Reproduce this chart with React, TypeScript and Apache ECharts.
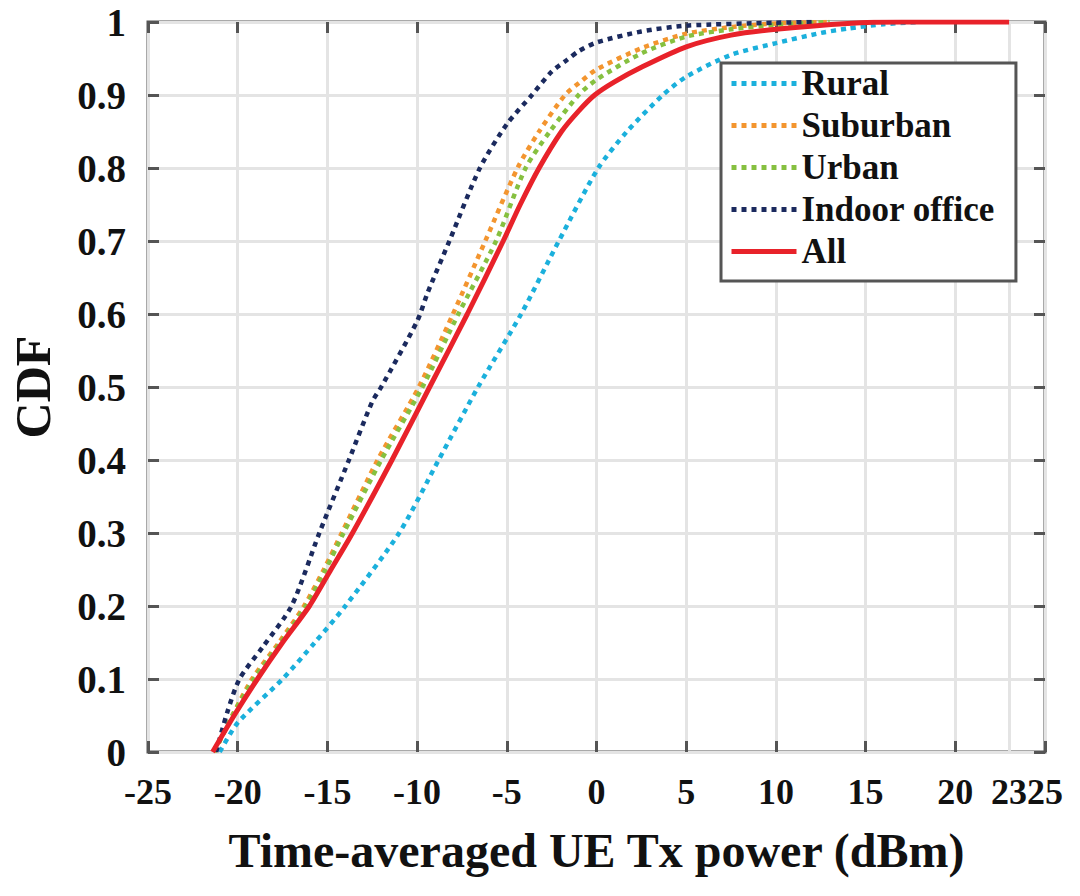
import React, { useEffect, useRef } from "react";
import * as echarts from "echarts";

const xTicks = [-25, -20, -15, -10, -5, 0, 5, 10, 15, 20, 23, 25];
const xMainLabels = [-25, -20, -15, -10, -5, 0, 5, 10, 15, 20, 25];
const xExtraLabels = [23];
const seriesNames = ["Rural", "Suburban", "Urban", "Indoor office", "All"];

const rural: number[][] = [
  [-21.0, 0], [-20.0, 0.04], [-17.5, 0.1], [-15.7, 0.15], [-14.0, 0.2], [-11.0, 0.3], [-8.8, 0.4],
  [-6.6, 0.5], [-4.2, 0.6], [-2.1, 0.7], [0.1, 0.8], [1.7, 0.85], [3.7, 0.9], [5.0, 0.925],
  [7.5, 0.955], [10.0, 0.971], [12.5, 0.985], [14.0, 0.991], [16.0, 0.997], [18.0, 1.0],
];
const suburban: number[][] = [
  [-21.3, 0], [-20.3, 0.05], [-19.2, 0.1], [-17.7, 0.15], [-16.3, 0.2], [-15.2, 0.25], [-14.2, 0.3],
  [-12.2, 0.4], [-9.9, 0.5], [-8.0, 0.6], [-6.2, 0.7], [-4.4, 0.8], [-3.2, 0.85], [-1.75, 0.9],
  [-0.8, 0.92], [0.0, 0.935], [2.5, 0.964], [5.0, 0.984], [7.5, 0.993], [10.0, 0.998], [13.0, 1.0],
];
const urban: number[][] = [
  [-21.3, 0], [-20.3, 0.05], [-19.1, 0.1], [-17.6, 0.15], [-16.2, 0.2], [-15.1, 0.25], [-14.1, 0.3],
  [-12.0, 0.4], [-9.7, 0.5], [-7.7, 0.6], [-5.6, 0.7], [-3.95, 0.8], [-2.6, 0.85], [-1.0, 0.9],
  [0.0, 0.921], [2.5, 0.957], [5.0, 0.98], [7.5, 0.99], [10.0, 0.996], [13.0, 1.0],
];
const indoorOffice: number[][] = [
  [-21.2, 0], [-20.6, 0.053], [-19.9, 0.1], [-18.6, 0.144], [-17.0, 0.2], [-15.45, 0.3],
  [-13.8, 0.4], [-12.5, 0.48], [-12.0, 0.5], [-10.0, 0.59], [-9.4, 0.63], [-8.2, 0.7],
  [-6.5, 0.8], [-5.0, 0.86], [-3.6, 0.9], [-2.5, 0.932], [-1.65, 0.948], [-1.0, 0.96],
  [0.0, 0.972], [2.5, 0.987], [5.0, 0.995], [10.0, 0.999], [12.0, 1.0],
];
const all: number[][] = [
  [-21.4, 0], [-20.2, 0.05], [-18.9, 0.1], [-17.5, 0.15], [-16.0, 0.2], [-14.8, 0.25], [-13.6, 0.3],
  [-11.4, 0.4], [-9.3, 0.5], [-7.2, 0.6], [-5.2, 0.7], [-4.25, 0.75], [-3.2, 0.8], [-1.95, 0.85],
  [-1.0, 0.878], [-0.1, 0.9], [1.0, 0.918], [2.5, 0.938], [5.0, 0.966], [7.5, 0.982], [10.0, 0.99],
  [14.0, 0.998], [17.0, 1.0], [23.0, 1.0],
];

const colors = ["#1bb0dc", "#f3952f", "#86c040", "#1b2a5e", "#e8222a"];
const datasets = [rural, suburban, urban, indoorOffice, all];

const FONT = "Liberation Serif";
const AXIS_COLOR = "#555555";
const GRID_COLOR = "#e4e4e4";

const tickLabelStyle = {
  fontFamily: FONT,
  fontWeight: "bold",
  fontSize: 36,
  color: "#111111",
};

export default function App() {
  const ref = useRef<HTMLDivElement>(null);

  useEffect(() => {
    if (!ref.current) return;
    const chart = echarts.init(ref.current, undefined, { renderer: "svg" });

    const series: any[] = datasets.map((d, i) => {
      const isAll = i === 4;
      return {
        name: seriesNames[i],
        type: "line",
        data: d,
        xAxisIndex: 0,
        yAxisIndex: 0,
        smooth: 0.25,
        symbol: "none",
        showSymbol: false,
        z: 3 + i,
        lineStyle: {
          color: colors[i],
          width: isAll ? 5 : 4.5,
          type: isAll ? "solid" : [5, 5],
          cap: "butt",
        },
        itemStyle: { color: colors[i] },
      };
    });
    // vertical grid line at the 23 dBm tick
    series[0].markLine = {
      silent: true,
      symbol: "none",
      label: { show: false },
      z: 1,
      lineStyle: { color: GRID_COLOR, width: 3, type: "solid" },
      data: [{ xAxis: 23 }],
    };

    const option: any = {
      animation: false,
      backgroundColor: "#ffffff",
      grid: {
        left: 143,
        right: 35,
        top: 22,
        bottom: 144,
        show: true,
        borderColor: AXIS_COLOR,
        borderWidth: 3,
        backgroundColor: "#ffffff",
      },
      legend: {
        data: seriesNames,
        orient: "vertical",
        left: 721,
        top: 63,
        itemWidth: 65,
        itemHeight: 12,
        itemGap: 7,
        padding: [3, 21, 12, 8],
        borderColor: AXIS_COLOR,
        borderWidth: 3,
        backgroundColor: "#ffffff",
        itemStyle: { opacity: 0 },
        lineStyle: { width: 5 },
        textStyle: {
          fontFamily: FONT,
          fontWeight: "bold",
          fontSize: 35,
          lineHeight: 35,
          color: "#111111",
        },
      },
      xAxis: [
        {
          type: "value",
          min: -25,
          max: 25,
          interval: 5,
          position: "bottom",
          name: "Time-averaged UE Tx power (dBm)",
          nameLocation: "middle",
          nameGap: 74,
          nameTextStyle: {
            fontFamily: FONT,
            fontWeight: "bold",
            fontSize: 48,
            color: "#111111",
          },
          axisLine: { show: false, onZero: false },
          axisTick: {
            show: true,
            inside: true,
            length: 11,
            customValues: xTicks,
            lineStyle: { color: AXIS_COLOR, width: 3 },
          },
          axisLabel: {
            customValues: xMainLabels,
            showMinLabel: true,
            showMaxLabel: true,
            margin: 22,
            ...tickLabelStyle,
          },
          splitLine: {
            show: true,
            lineStyle: { color: GRID_COLOR, width: 3 },
          },
        },
        {
          type: "value",
          min: -25,
          max: 25,
          interval: 5,
          position: "top",
          axisLine: { show: false, onZero: false },
          axisTick: {
            show: true,
            inside: true,
            length: 11,
            customValues: xTicks,
            lineStyle: { color: AXIS_COLOR, width: 3 },
          },
          axisLabel: { show: false },
          splitLine: { show: false },
        },
        {
          type: "value",
          min: -25,
          max: 25,
          interval: 5,
          position: "bottom",
          axisLine: { show: false, onZero: false },
          axisTick: { show: false },
          axisLabel: {
            customValues: xExtraLabels,
            showMinLabel: false,
            showMaxLabel: false,
            margin: 22,
            ...tickLabelStyle,
          },
          splitLine: { show: false },
        },
      ],
      yAxis: [
        {
          type: "value",
          min: 0,
          max: 1,
          interval: 0.1,
          position: "left",
          name: "CDF",
          nameLocation: "middle",
          nameGap: 90,
          nameTextStyle: {
            fontFamily: FONT,
            fontWeight: "bold",
            fontSize: 50,
            color: "#111111",
          },
          axisLine: { show: false, onZero: false },
          axisTick: {
            show: true,
            inside: true,
            length: 11,
            lineStyle: { color: AXIS_COLOR, width: 3 },
          },
          axisLabel: {
            margin: 22,
            showMinLabel: true,
            showMaxLabel: true,
            fontFamily: FONT,
            fontWeight: "bold",
            fontSize: 39,
            color: "#111111",
            formatter: (v: number) => {
              const r = Math.round(v * 10) / 10;
              if (r === 0) return "0";
              if (r === 1) return "1";
              return r.toFixed(1);
            },
          },
          splitLine: {
            show: true,
            lineStyle: { color: GRID_COLOR, width: 3 },
          },
        },
        {
          type: "value",
          min: 0,
          max: 1,
          interval: 0.1,
          position: "right",
          axisLine: { show: false, onZero: false },
          axisTick: {
            show: true,
            inside: true,
            length: 11,
            lineStyle: { color: AXIS_COLOR, width: 3 },
          },
          axisLabel: { show: false },
          splitLine: { show: false },
        },
      ],
      series,
    };

    chart.setOption(option);
    return () => {
      chart.dispose();
    };
  }, []);

  return (
    <div
      ref={ref}
      style={{ position: "fixed", left: 0, top: 0, width: 1080, height: 896, background: "#ffffff" }}
    />
  );
}
